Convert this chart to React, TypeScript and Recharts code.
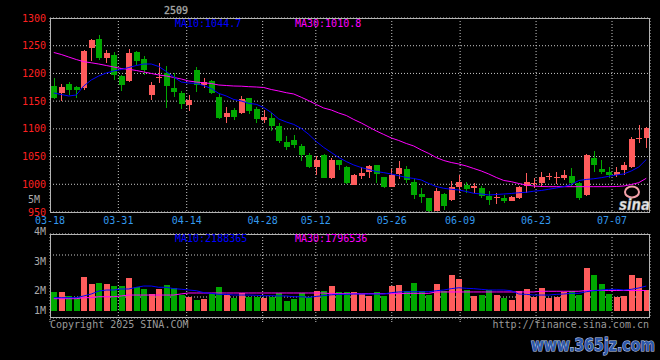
import React from 'react';
import { ComposedChart, Bar, Line, XAxis, YAxis, CartesianGrid, Cell } from 'recharts';

const RED = '#ff5c5c';
const GREEN = '#00a800';
const MONO = '"DejaVu Sans Mono", monospace';

const opens = [1177,1165,1181,1176,1173,1245,1262,1227,1234,1196,1187,1239,1226,1161,1192,1200,1174,1165,1143,1206,1179,1186,1158,1122,1134,1128,1156,1135,1116,1120,1106,1077,1080,1069,1053,1032,1053,1012,1043,1032,999,1015,1022,1034,1013,996,1019,1028,1005,983,975,952,982,972,996,999,993,993,979,976,976,970,976,997,1001,1002,1014,1012,1011,1015,1002,981,1048,1028,1023,1016,1025,1032,1083,1084];
const highs = [1191,1181,1185,1178,1242,1262,1269,1242,1239,1198,1244,1241,1231,1184,1219,1214,1200,1168,1161,1211,1191,1188,1163,1140,1137,1159,1156,1140,1134,1128,1110,1087,1089,1073,1057,1051,1054,1048,1044,1033,1018,1032,1035,1035,1014,1028,1042,1033,1009,993,976,994,984,1006,1017,1005,1002,997,988,984,981,978,997,1020,1011,1022,1020,1022,1026,1030,1005,1054,1060,1043,1032,1032,1041,1086,1107,1104];
const lows = [1153,1150,1161,1155,1171,1222,1224,1218,1188,1168,1185,1215,1197,1152,1182,1138,1158,1135,1132,1167,1174,1162,1118,1110,1116,1126,1126,1110,1110,1096,1074,1061,1065,1042,1029,1017,1011,1010,1025,1000,998,1010,1012,1002,994,995,1009,1003,973,966,950,952,954,969,984,984,984,975,963,965,966,969,973,984,993,996,1008,1000,1008,996,972,979,1023,1018,1011,1014,1017,1029,1074,1066];
const closes = [1156,1176,1170,1170,1240,1260,1228,1237,1198,1180,1236,1222,1206,1179,1193,1178,1166,1144,1152,1180,1185,1164,1120,1129,1122,1153,1132,1118,1122,1106,1078,1068,1071,1053,1032,1044,1012,1044,1034,1002,1017,1021,1033,1018,996,1017,1029,1008,981,977,952,987,960,996,1005,991,997,978,972,977,970,977,996,1004,1003,1013,1015,1013,1017,1003,976,1052,1035,1022,1017,1022,1034,1082,1084,1101];

const ma10 = [1164.7,1162,1159.3,1161,1177.3,1188.2,1195.4,1200.8,1204.4,1207.1,1210.7,1214.3,1217,1217,1212.5,1203.5,1193.6,1184.5,1182.7,1182,1178,1172.8,1164,1159.3,1153,1150.3,1146,1144.3,1138.5,1129.5,1117.8,1112.4,1108,1100.7,1090,1077.2,1066.4,1057.4,1048.3,1041,1034.8,1030.2,1026.7,1023,1021,1018.6,1015.5,1012.3,1010.5,1007.8,1001.4,996,992.8,991,989.7,987,983.7,982.5,980.7,981.6,982.5,983.4,984.8,985.5,987.5,988.8,991,993.3,995.7,999.6,1006.8,1008.7,1010,1011.9,1014.4,1016.8,1018.6,1024,1031.2,1044.7];
const ma30 = [1237.8,1234.2,1229.6,1225.1,1221.2,1219.2,1217,1214.3,1211.6,1208.9,1207.5,1205.3,1202.6,1199.9,1197.2,1195.4,1192.7,1190,1186.3,1184.5,1183.1,1181.8,1179.1,1178.2,1177.3,1177,1176.1,1175.5,1174.6,1171,1168.3,1165.2,1162.9,1157,1150.8,1144,1137.6,1134,1128.6,1124.1,1116.9,1110.6,1103.4,1096.2,1089.9,1083.6,1079,1073.6,1069.1,1061.9,1055.6,1048.3,1042.9,1039.3,1036.6,1033,1028.5,1024,1018.6,1012.3,1006.9,1004.7,1001.4,998.7,996.9,996,995.7,995.7,995.7,995.7,995.7,995.7,995.7,995.7,995.7,996,996.9,999.6,1002.9,1010.8];

// volume in millions of shares
const volumes = [1.67,1.67,1.32,1.25,2.98,2.37,2.46,2.37,2.19,2.19,2.89,2.08,1.93,1.46,1.93,2.28,2.02,1.40,1.25,0.96,1.05,1.46,2.11,1.40,1.17,1.61,1.25,1.25,1.17,1.20,1.61,0.90,1.05,1.61,1.20,1.78,1.75,2.19,1.69,1.69,1.67,1.46,1.34,1.67,1.34,2.19,2.28,1.78,2.46,1.78,1.40,2.37,1.78,3.16,2.81,1.84,1.34,1.40,1.84,1.40,1.14,0.96,1.75,1.93,1.25,2.02,1.14,1.25,1.67,1.75,1.40,3.77,3.16,2.37,1.49,1.25,1.34,3.16,2.89,1.87];
const volMa10 = [1.17,1.17,1.17,1.17,1.32,1.49,1.75,1.84,1.84,1.93,1.93,2.08,2.19,2.19,2.08,2.08,1.96,1.91,1.84,1.78,1.61,1.55,1.46,1.46,1.40,1.40,1.40,1.38,1.34,1.34,1.32,1.32,1.25,1.25,1.20,1.28,1.35,1.42,1.46,1.46,1.49,1.49,1.49,1.49,1.49,1.61,1.67,1.69,1.69,1.69,1.69,1.78,1.84,1.96,2.04,1.99,1.96,1.90,1.84,1.84,1.84,1.78,1.49,1.46,1.40,1.40,1.40,1.46,1.49,1.55,1.55,1.69,1.78,1.84,1.90,1.90,1.84,1.90,2.02,2.19];
const volMa30 = [1.08,1.08,1.08,1.08,1.17,1.17,1.25,1.25,1.25,1.32,1.40,1.40,1.40,1.40,1.40,1.40,1.40,1.50,1.58,1.58,1.58,1.58,1.58,1.58,1.58,1.58,1.58,1.58,1.58,1.58,1.58,1.58,1.58,1.58,1.58,1.58,1.58,1.52,1.52,1.52,1.52,1.52,1.52,1.52,1.52,1.52,1.52,1.55,1.55,1.55,1.55,1.67,1.67,1.67,1.67,1.67,1.67,1.67,1.67,1.67,1.67,1.67,1.67,1.67,1.67,1.73,1.73,1.73,1.73,1.73,1.73,1.80,1.80,1.80,1.80,1.80,1.80,1.80,1.80,1.80];

const dateTicks = [0, 9, 18, 28, 35, 45, 54, 64, 74];
const dateLabels = ['03-18', '03-31', '04-14', '04-28', '05-12', '05-26', '06-09', '06-23', '07-07'];
const priceTicks = [950, 1000, 1050, 1100, 1150, 1200, 1250, 1300];
const volLabels = ['5M', '4M', '3M', '2M', '1M'];

const data = opens.map((o, i) => ({
  idx: i,
  open: o,
  high: highs[i],
  low: lows[i],
  close: closes[i],
  range: [lows[i], highs[i]],
  vol: volumes[i],
  ma10: ma10[i],
  ma30: ma30[i],
  vma10: volMa10[i],
  vma30: volMa30[i],
}));

function Candle(props: any) {
  const { x, y, width, height, payload } = props;
  if (!payload || x == null || y == null) return null;
  const { open, close, high, low } = payload;
  const color = close >= open ? RED : GREEN;
  const top = Math.min(y, y + height);
  const h = Math.abs(height);
  const span = high - low || 1;
  const py = (v: number) => top + ((high - v) / span) * h;
  const bTop = py(Math.max(open, close));
  const bBot = py(Math.min(open, close));
  const cx = Math.floor(x + width / 2) + 0.5;
  return (
    <g shapeRendering="crispEdges">
      <line x1={cx} x2={cx} y1={top} y2={top + h} stroke={color} strokeWidth={1} />
      <rect x={Math.round(x)} y={bTop} width={Math.round(width)} height={Math.max(1, bBot - bTop)} fill={color} />
    </g>
  );
}

const GRID = '#c8c8c8';
const FRAME = '#b4b4b4';

export default function App() {
  const txt = { fontFamily: MONO, fontSize: 10 } as const;
  return (
    <div style={{ position: 'absolute', left: 0, top: 0, width: 660, height: 360, background: '#000', overflow: 'hidden' }}>
      <div style={{ position: 'absolute', left: 0, top: 0 }}>
        <ComposedChart width={660} height={228} data={data} margin={{ top: 18, right: 10, bottom: 0, left: 0 }}>
          <XAxis
            xAxisId="t"
            dataKey="idx"
            type="number"
            domain={[0, 79]}
            allowDataOverflow
            ticks={dateTicks}
            interval={0}
            tickFormatter={(v: number) => dateLabels[dateTicks.indexOf(v)] ?? ''}
            axisLine={false}
            tickLine={false}
            tickSize={0}
            tickMargin={5}
            height={16}
            tick={{ fill: '#3399ee', ...txt }}
          />
          <XAxis xAxisId="c" dataKey="idx" type="category" hide height={0} />
          <YAxis
            yAxisId="p"
            domain={[950, 1300]}
            allowDataOverflow
            ticks={priceTicks}
            interval={0}
            width={50}
            axisLine={false}
            tickLine={false}
            tickSize={0}
            tickMargin={4}
            tick={{ fill: '#ff2020', ...txt }}
          />
          <CartesianGrid xAxisId="t" yAxisId="p" stroke={GRID} strokeDasharray="1 2" />
          <Bar xAxisId="c" yAxisId="p" dataKey="range" barSize={6} shape={(p: any) => <Candle {...p} />} isAnimationActive={false} />
          <Line xAxisId="c" yAxisId="p" dataKey="ma30" stroke="#ff00ff" strokeWidth={1} dot={false} isAnimationActive={false} />
          <Line xAxisId="c" yAxisId="p" dataKey="ma10" stroke="#0000ff" strokeWidth={1} dot={false} isAnimationActive={false} />
        </ComposedChart>
      </div>
      <div style={{ position: 'absolute', left: 0, top: 0 }}>
        <ComposedChart width={660} height={330} data={data} margin={{ top: 234, right: 10, bottom: 0, left: 50 }}>
          <XAxis
            xAxisId="t"
            dataKey="idx"
            type="number"
            domain={[0, 79]}
            allowDataOverflow
            ticks={dateTicks}
            interval={0}
            tickFormatter={() => ''}
            axisLine={false}
            tickLine={{ stroke: GRID, strokeDasharray: '1 1' }}
            tickSize={4}
            height={12}
          />
          <XAxis xAxisId="c" dataKey="idx" type="category" hide height={0} />
          <YAxis yAxisId="v" domain={[-0.614, 6.754]} allowDataOverflow hide width={0} />
          <YAxis yAxisId="g" domain={[0, 4]} ticks={[1, 2, 3]} allowDataOverflow hide width={0} />
          <CartesianGrid xAxisId="t" yAxisId="g" stroke={GRID} strokeDasharray="1 2" />
          <Bar xAxisId="c" yAxisId="v" dataKey="vol" barSize={6} isAnimationActive={false} shapeRendering="crispEdges">
            {data.map((d, i) => (
              <Cell key={i} fill={d.close >= d.open ? RED : GREEN} />
            ))}
          </Bar>
          <Line xAxisId="c" yAxisId="v" dataKey="vma30" stroke="#ff00ff" strokeWidth={1} dot={false} isAnimationActive={false} />
          <Line xAxisId="c" yAxisId="v" dataKey="vma10" stroke="#0000ff" strokeWidth={1} dot={false} isAnimationActive={false} />
        </ComposedChart>
      </div>
      <div style={{ position: 'absolute', left: 50, top: 18, width: 600, height: 195, boxSizing: 'border-box', border: `1px solid ${FRAME}` }} />
      <div style={{ position: 'absolute', left: 50, top: 234, width: 600, height: 84, boxSizing: 'border-box', border: `1px solid ${FRAME}` }} />
      <svg width={660} height={360} style={{ position: 'absolute', left: 0, top: 0 }}>
        <g style={txt} dominantBaseline="central">
          <text x={164} y={10} fill="#d8d8d8" stroke="#777" strokeWidth={0.4}>2509</text>
          <text x={175} y={23.5} fill="#0000ff">MA10:1044.7</text>
          <text x={295} y={23.5} fill="#ff00ff">MA30:1010.8</text>
          <text x={175} y={238} fill="#0000ff">MA10:2188365</text>
          <text x={295} y={238} fill="#ff00ff">MA30:1796536</text>
          <text x={40} y={199} fill="#aaaaaa" textAnchor="end">{volLabels[0]}</text>
          <text x={46} y={231} fill="#aaaaaa" textAnchor="end">{volLabels[1]}</text>
          <text x={46} y={261} fill="#aaaaaa" textAnchor="end">{volLabels[2]}</text>
          <text x={46} y={290} fill="#aaaaaa" textAnchor="end">{volLabels[3]}</text>
          <text x={46} y={310} fill="#aaaaaa" textAnchor="end">{volLabels[4]}</text>
          <text x={50} y={324} fill="#9a9a9a">Copyright 2025 SINA.COM</text>
          <text x={649} y={324} fill="#9a9a9a" textAnchor="end">http://finance.sina.com.cn</text>
        </g>
        <ellipse cx={632} cy={192} rx={7} ry={5.5} fill="none" stroke="#f4a0a8" strokeWidth={2} />
        <text x={619} y={210} fill="#e8e8e8" stroke="#999" strokeWidth={0.5} fontFamily="DejaVu Sans" fontWeight="bold" fontStyle="italic" fontSize={15} textLength={31} lengthAdjust="spacingAndGlyphs">sina</text>
        <text x={531} y={351} fill="#2e58a8" stroke="#c8d4f0" strokeWidth={1.2} paintOrder="stroke" fontFamily="DejaVu Sans" fontWeight="bold" fontSize={18} textLength={124} lengthAdjust="spacingAndGlyphs">www.365jz.com</text>
      </svg>
    </div>
  );
}
